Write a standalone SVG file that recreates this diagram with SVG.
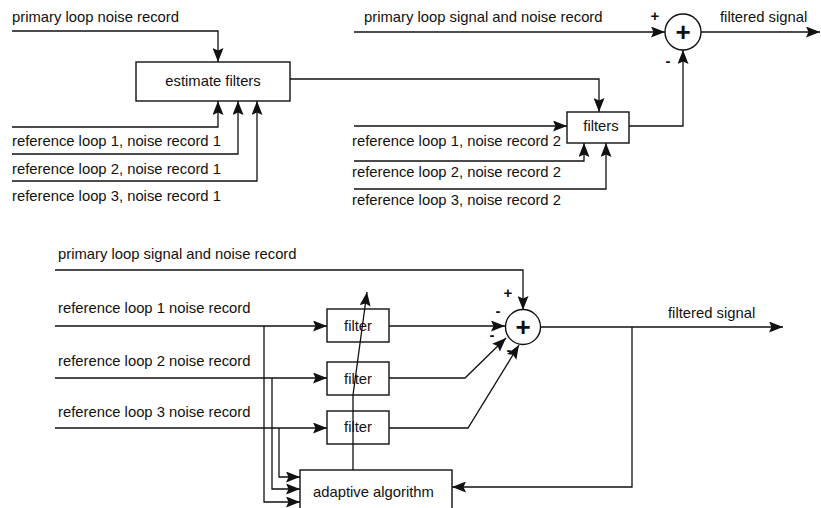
<svg xmlns="http://www.w3.org/2000/svg" width="821" height="508" viewBox="0 0 821 508">
<style>
text{font-family:"Liberation Sans",Arial,sans-serif;font-size:14.8px;fill:#111}
.c{text-anchor:middle}
.box{fill:#fff;stroke:#111;stroke-width:1.4}
.ln{fill:none;stroke:#111;stroke-width:1.3}
.ar{marker-end:url(#ah)}
.sum{font-size:26px;font-weight:bold}
.sg{font-size:15px;font-weight:bold}
</style>
<defs>
<marker id="ah" markerUnits="userSpaceOnUse" markerWidth="15" markerHeight="11" refX="14" refY="5.5" orient="auto">
<path d="M0,0 L14,5.5 L0,11 L2.5,5.5 z" fill="#111"/>
</marker>
</defs>
<g id="labels-top">
<text x="12" y="22">primary loop noise record</text>
<text x="12" y="146">reference loop 1, noise record 1</text>
<text x="12" y="174">reference loop 2, noise record 1</text>
<text x="12" y="201">reference loop 3, noise record 1</text>
<text x="364" y="22">primary loop signal and noise record</text>
<text x="720" y="22">filtered signal</text>
<text x="352" y="146">reference loop 1, noise record 2</text>
<text x="352" y="177">reference loop 2, noise record 2</text>
<text x="352" y="205">reference loop 3, noise record 2</text>
<text class="sg c" x="655" y="21">+</text>
<text class="sg c" x="668" y="66">-</text>
</g>
<g id="estimate-filters">
<rect class="box" x="136" y="62" width="154" height="39"/>
<text class="c" x="213" y="86">estimate filters</text>
</g>
<g id="filters">
<rect class="box" x="567" y="112" width="62" height="31"/>
<text class="c" x="601" y="131">filters</text>
</g>
<g id="sum-top">
<circle cx="683" cy="32" r="18" fill="#fff" stroke="#111" stroke-width="1.4"/>
<text class="c sum" x="683" y="41">+</text>
</g>
<g id="labels-bottom">
<text x="58" y="259">primary loop signal and noise record</text>
<text x="58" y="313">reference loop 1 noise record</text>
<text x="58" y="366">reference loop 2 noise record</text>
<text x="58" y="417">reference loop 3 noise record</text>
<text x="668" y="318">filtered signal</text>
<text class="sg c" x="508" y="298">+</text>
<text class="sg c" x="498" y="316">-</text>
<text class="sg c" x="492" y="340">-</text>
<text class="sg c" x="509" y="355">-</text>
</g>
<g id="filter-1">
<rect class="box" x="327" y="309" width="62" height="33"/>
<text class="c" x="358" y="331">filter</text>
</g>
<g id="filter-2">
<rect class="box" x="327" y="362" width="62" height="33"/>
<text class="c" x="358" y="384">filter</text>
</g>
<g id="filter-3">
<rect class="box" x="327" y="411" width="62" height="33"/>
<text class="c" x="358" y="432">filter</text>
</g>
<g id="sum-bottom">
<circle cx="523" cy="327" r="17.5" fill="#fff" stroke="#111" stroke-width="1.4"/>
<text class="c sum" x="523" y="336">+</text>
</g>
<g id="adaptive-algorithm">
<rect class="box" x="300" y="470" width="152" height="50"/>
<text x="313" y="497">adaptive algorithm</text>
</g>
<g id="connectors">
<path class="ln ar" d="M12,31 H218 V62"/>
<path class="ln ar" d="M12,127 H218 V101"/>
<path class="ln ar" d="M12,154 H238 V101"/>
<path class="ln ar" d="M12,181 H257 V101"/>
<path class="ln ar" d="M290,79 H599 V112"/>
<path class="ln ar" d="M354,32 H665"/>
<path class="ln ar" d="M701,32 H820"/>
<path class="ln ar" d="M354,126 H567"/>
<path class="ln ar" d="M354,161 H584 V143"/>
<path class="ln ar" d="M354,189 H606 V143"/>
<path class="ln ar" d="M629,126 H683 V50"/>
<path class="ln ar" d="M55,270 H523 V310"/>
<path class="ln ar" d="M55,326 H327"/>
<path class="ln ar" d="M55,378 H327"/>
<path class="ln ar" d="M55,428 H327"/>
<path class="ln ar" d="M389,326 H505"/>
<path class="ln ar" d="M389,378 H465 L506,338"/>
<path class="ln ar" d="M389,428 H468 L519,345"/>
<path class="ln ar" d="M540,327 H783"/>
<path class="ln ar" d="M632,327 V487 H452"/>
<path class="ln ar" d="M264,326 V502 H300"/>
<path class="ln ar" d="M272,378 V489 H300"/>
<path class="ln ar" d="M279,428 V477 H300"/>
<path class="ln ar" d="M353,470 V395 L367,292"/>
</g>
</svg>
